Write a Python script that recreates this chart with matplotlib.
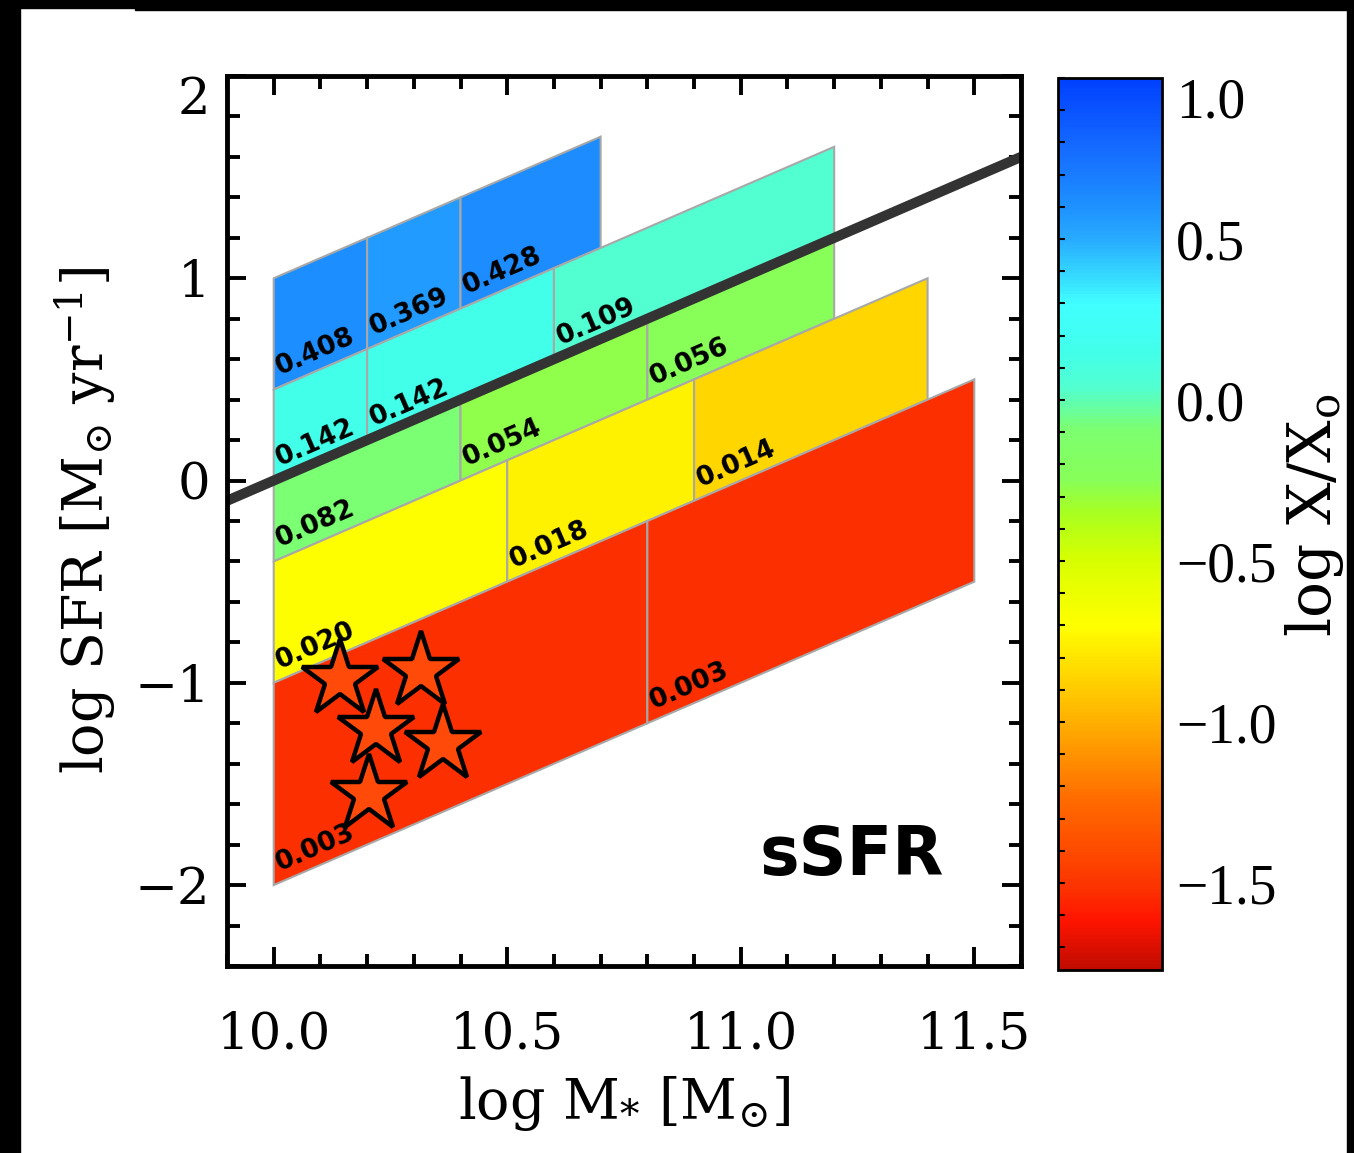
import numpy as np
import matplotlib
matplotlib.use("Agg")
import matplotlib.pyplot as plt
from matplotlib.patches import Polygon, Rectangle
from matplotlib.colors import LinearSegmentedColormap, Normalize
from matplotlib.cm import ScalarMappable
from matplotlib.ticker import MultipleLocator, FuncFormatter

# --- data ---
# rows of cells: bounded by constant log sSFR (lo, hi) and by log M* edges
row_ssfr_lo = [-9.55, -10.0, -10.4, -11.0, -12.0]
row_ssfr_hi = [-9.0, -9.55, -10.0, -10.4, -11.0]
row_mass_edges = [
    [10.0, 10.2, 10.4, 10.7],
    [10.0, 10.2, 10.6, 11.2],
    [10.0, 10.4, 10.8, 11.2],
    [10.0, 10.5, 10.9, 11.4],
    [10.0, 10.8, 11.5],
]
row_values = [
    [0.408, 0.369, 0.428],
    [0.142, 0.142, 0.109],
    [0.082, 0.054, 0.056],
    [0.020, 0.018, 0.014],
    [0.003, 0.003],
]
x_ref = 0.1  # X_o

# main sequence line
ms_mass = [9.9, 11.6]
ms_sfr = [-0.10, 1.60]

# stars
star_mass = [10.142, 10.315, 10.219, 10.362, 10.204]
star_sfr = [-0.98, -0.94, -1.23, -1.30, -1.55]

xticks = [10.0, 10.5, 11.0, 11.5]
yticks = [-2, -1, 0, 1, 2]
cticks = [-1.5, -1.0, -0.5, 0.0, 0.5, 1.0]
cmin, cmax = -1.77, 1.0

# colour scale anchors (log X/X_o -> colour)
cmap_vals = [-1.77, -1.62, -1.52, -1.25, -1.0, -0.85, -0.7, -0.5, -0.35, -0.25,
             -0.09, 0.04, 0.15, 0.3, 0.5, 0.6, 0.8, 1.0]
cmap_cols = ["#C00C00", "#FF1400", "#FC3200", "#FF6A00", "#FFB000", "#FFD800",
             "#FFFF00", "#D8FF00", "#A8FF20", "#88FF58", "#7CFF70", "#52FFD0",
             "#42FFEA", "#40FFFF", "#28ACFF", "#1E92FF", "#1468FF", "#0040FF"]

W, H = 1354, 1153
plt.rcParams["mathtext.fontset"] = "dejavuserif"
plt.rcParams["mathtext.default"] = "regular"
serif = "DejaVu Serif"

pos = [(v - cmin) / (cmax - cmin) for v in cmap_vals]
cmap = LinearSegmentedColormap.from_list("xx", list(zip(pos, cmap_cols)))
norm = Normalize(vmin=cmin, vmax=cmax)

fig = plt.figure(figsize=(W / 100, H / 100), dpi=100)
ax = fig.add_axes([227 / W, 1 - 966 / H, (1021 - 227) / W, (966 - 76) / H])

# cells
for lo, hi, edges, vals in zip(row_ssfr_lo, row_ssfr_hi, row_mass_edges, row_values):
    for m0, m1, v in zip(edges[:-1], edges[1:], vals):
        verts = [(m0, m0 + lo), (m1, m1 + lo), (m1, m1 + hi), (m0, m0 + hi)]
        col = cmap(norm(np.log10(v / x_ref)))
        ax.add_patch(Polygon(verts, closed=True, facecolor=col,
                             edgecolor="#A8A8A8", lw=1.5, zorder=1))
        ax.text(m0 + 0.014, m0 + lo + 0.07, f"{v:.3f}", rotation=45,
                transform_rotates_text=True, rotation_mode="anchor",
                ha="left", va="baseline", fontsize=19, fontweight="bold",
                family="DejaVu Sans", color="black", zorder=3)

ax.plot(ms_mass, ms_sfr, color="#333333", lw=7.3, solid_capstyle="butt", zorder=2)
ax.plot(star_mass, star_sfr, ls="none", marker="*", ms=58, mfc="#FF4A0A",
        mec="black", mew=3.2, zorder=4)

ax.text(11.04, -1.95, "sSFR", ha="left", va="baseline", fontsize=48,
        fontweight="bold", family="DejaVu Sans", zorder=5)

ax.set_xlim(9.9, 11.6)
ax.set_ylim(-2.4, 2.0)
ax.set_xticks(xticks)
ax.set_yticks(yticks)
ax.xaxis.set_minor_locator(MultipleLocator(0.1))
ax.yaxis.set_minor_locator(MultipleLocator(0.2))
ax.xaxis.set_major_formatter(FuncFormatter(lambda v, p: f"{v:.1f}"))
ax.yaxis.set_major_formatter(FuncFormatter(lambda v, p: f"{v:.0f}".replace("-", "\u2212")))
ax.tick_params(which="both", direction="in", top=True, right=True, width=2.8)
ax.tick_params(which="major", length=14)
ax.tick_params(which="minor", length=9)
ax.tick_params(axis="x", pad=32, labelsize=37)
ax.tick_params(axis="y", pad=12, labelsize=37)
for lab in ax.get_xticklabels() + ax.get_yticklabels():
    lab.set_family(serif)
for sp in ax.spines.values():
    sp.set_linewidth(3.5)
ax.yaxis.get_major_ticks()[-1].label1.set_va("top")

ax.set_xlabel(r"log M$_{*}$ [M$_{\odot}$]", fontsize=40, family=serif, labelpad=10)
ax.set_ylabel(r"log SFR [M$_{\odot}$ yr$^{-1}$]", fontsize=40, family=serif, labelpad=12)

# colour bar
cax = fig.add_axes([1058 / W, 1 - 970 / H, 104 / W, (970 - 78) / H])
cb = fig.colorbar(ScalarMappable(norm=norm, cmap=cmap), cax=cax)
cb.set_ticks(cticks)
cb.ax.yaxis.set_major_formatter(FuncFormatter(lambda v, p: f"{v:.1f}".replace("-", "\u2212")))
cb.ax.yaxis.set_minor_locator(MultipleLocator(0.1))
cb.ax.tick_params(which="both", direction="in", left=True, right=False,
                  labelleft=False, labelright=True, length=5, width=1.5,
                  labelsize=40, pad=10)
for lab in cb.ax.get_yticklabels():
    lab.set_family("Liberation Serif")
cb.ax.yaxis.get_major_ticks()[-1].label2.set_va("top")
cb.outline.set_linewidth(2)
cb.set_label(r"log X/X$_{o}$", fontsize=43, family=serif)
cb.ax.yaxis.set_label_coords(2.16, 0.51)

# black frame around the picture
fig.add_artist(Rectangle((0, 0), 20 / W, 1, transform=fig.transFigure, color="black"))
fig.add_artist(Rectangle((1 - 7 / W, 0), 7 / W, 1, transform=fig.transFigure, color="black"))
fig.add_artist(Rectangle((0, 1 - 8 / H), 1, 8 / H, transform=fig.transFigure, color="black"))
fig.add_artist(Rectangle((135 / W, 1 - 10 / H), 1, 10 / H, transform=fig.transFigure, color="black"))

fig.savefig("out.png", dpi=100, facecolor="white")
